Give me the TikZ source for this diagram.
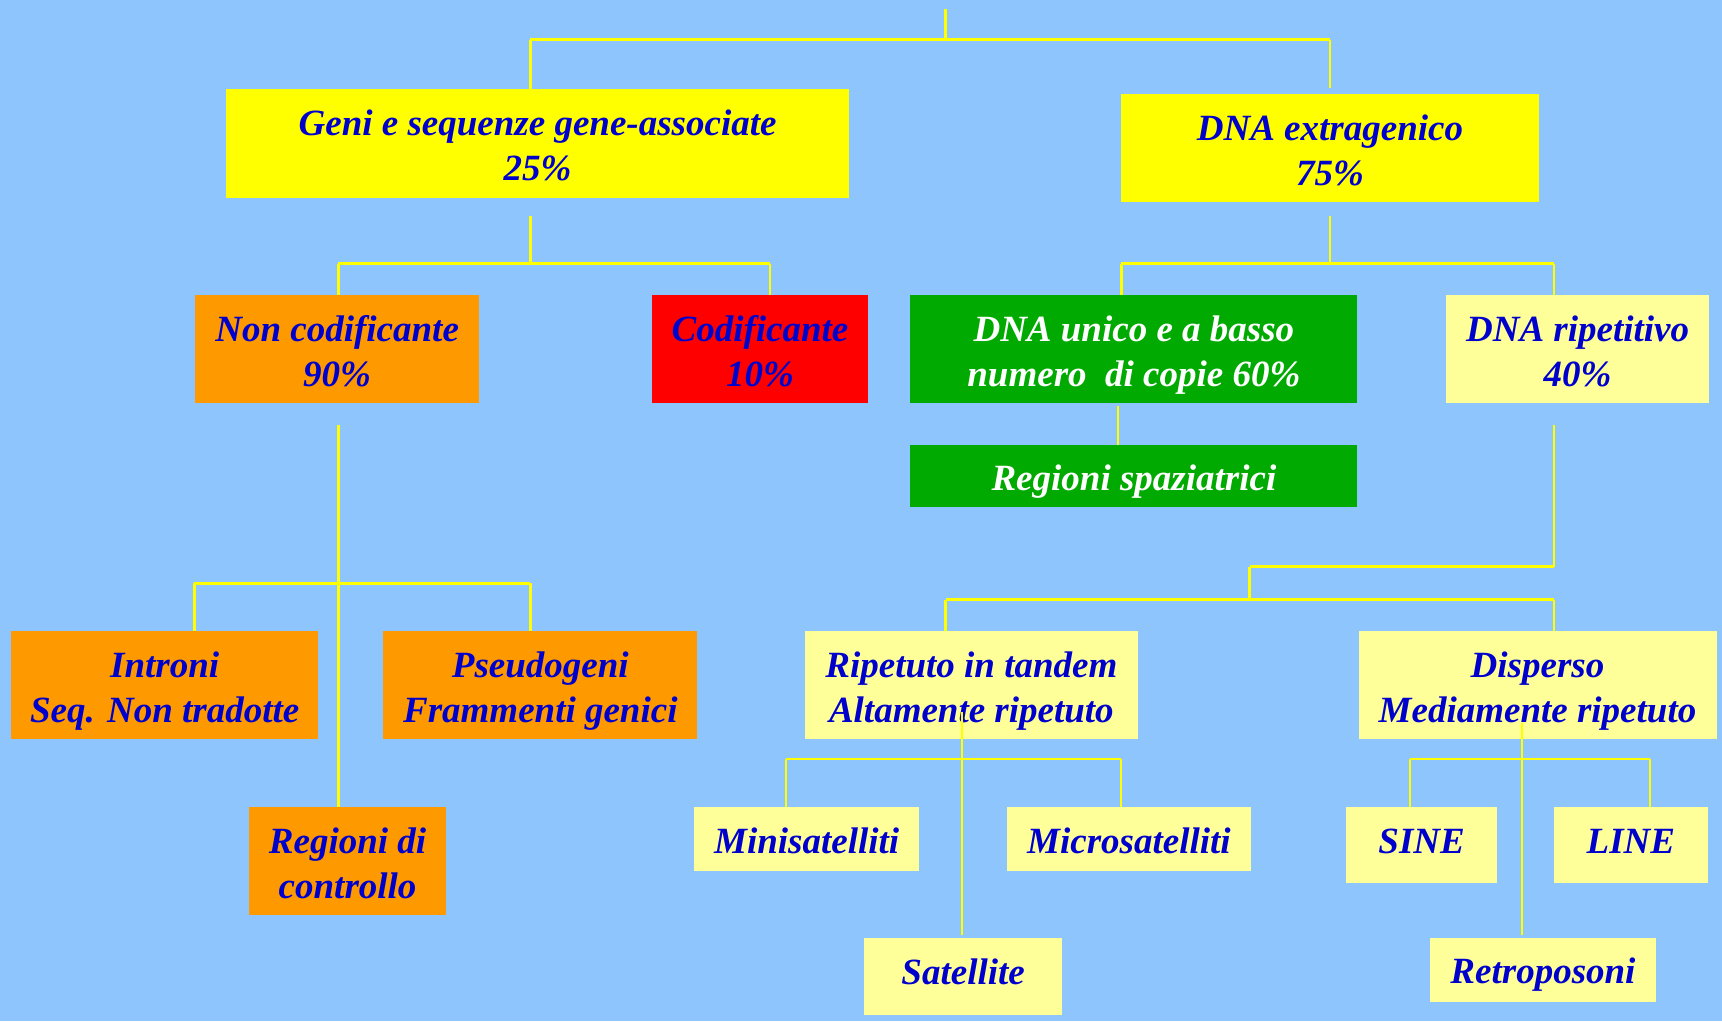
\documentclass[tikz,border=0pt]{standalone}
\usepackage{fontspec}
\setmainfont{Liberation Serif}
\definecolor{skyback}{RGB}{142,197,252}
\definecolor{linkyellow}{RGB}{255,255,0}
\definecolor{boxyellow}{RGB}{255,255,0}
\definecolor{boxpale}{RGB}{255,255,153}
\definecolor{boxorange}{RGB}{255,153,0}
\definecolor{boxred}{RGB}{255,0,0}
\definecolor{boxgreen}{RGB}{0,170,0}
\definecolor{inkblue}{RGB}{0,0,204}

% box given by its corners (x1,y1) and (x2,y2)
\newcommand\gbox[7]{%
  \node[#6, minimum width={(#4-#2)*1.0982pt}, minimum height={(#5-#3)*1.0982pt}]
    (#1) at ({(#2+#4)/2},{(#3+#5)/2}) {#7};}

\tikzset{
  cell/.style={inner sep=0pt, outer sep=0pt, align=center, text=inkblue,
    font=\fontsize{37pt}{45pt}\selectfont\bfseries\itshape},
  one/.style={text height=37pt, text depth=9pt},
  onehigh/.style={text height=25pt, text depth=9pt},
  two/.style={text height=84pt, text depth=9pt},
  yel/.style={cell, fill=boxyellow},
  pale/.style={cell, fill=boxpale},
  ora/.style={cell, fill=boxorange},
  redbox/.style={cell, fill=boxred},
  grn/.style={cell, fill=boxgreen, text=white},
  vl/.style={draw=linkyellow, line width=2.6pt},
  bar/.style={draw=linkyellow, line width=3pt},
  thin/.style={draw=linkyellow, line width=2pt},
}

\begin{document}
\begin{tikzpicture}[x=1.0982pt, y=-1.0982pt]
\fill[skyback] (0,0) rectangle (1568,930);
\useasboundingbox (0,0) rectangle (1568,930);

% boxes
\gbox{geni}{206}{81}{773}{180}{yel,two}{Geni e sequenze gene-associate\\25\%}
\gbox{extra}{1021}{86}{1401}{184}{yel,two}{DNA extragenico\\75\%}
\gbox{noncod}{178}{269}{436}{367}{ora,two}{Non codificante\\90\%}
\gbox{cod}{594}{269}{790}{367}{redbox,two}{Codificante\\10\%}
\gbox{unico}{829}{269}{1236}{367}{grn,two}{DNA unico e a basso\\numero~ di copie 60\%}
\gbox{ripet}{1317}{269}{1556}{367}{pale,two}{DNA ripetitivo\\40\%}
\gbox{spaz}{829}{405}{1236}{462}{grn,one}{Regioni spaziatrici}
\gbox{introni}{10}{575}{290}{673}{ora,two}{Introni\\Seq. Non tradotte}
\gbox{pseudo}{349}{575}{635}{673}{ora,two}{Pseudogeni\\Frammenti genici}
\gbox{contr}{227}{735}{406}{833}{ora,two}{Regioni di\\controllo}
\gbox{tandem}{733}{575}{1036}{673}{pale,two}{Ripetuto in tandem\\Altamente ripetuto}
\gbox{disp}{1237}{575}{1563}{673}{pale,two}{Disperso\\Mediamente ripetuto}
\gbox{mini}{632}{735}{837}{793}{pale,one}{Minisatelliti}
\gbox{micro}{917}{735}{1139}{793}{pale,one}{Microsatelliti}
\gbox{sat}{787}{854}{967}{924}{pale,onehigh}{Satellite}
\gbox{sine}{1226}{735}{1363}{804}{pale,onehigh}{SINE}
\gbox{linebox}{1415}{735}{1555}{804}{pale,onehigh}{LINE}
\gbox{retro}{1302}{854}{1508}{912}{pale,one}{Retroposoni}

% junction points
\coordinate (root) at (861,8);
\coordinate (r0) at (861,36);
\coordinate (rl) at (483,36);
\coordinate (rr) at (1211,36);
\coordinate (g0) at (483,197);
\coordinate (g1) at (483,240);
\coordinate (gl) at (308,240);
\coordinate (gr) at (701,240);
\coordinate (e0) at (1211,197);
\coordinate (e1) at (1211,240);
\coordinate (el) at (1021,240);
\coordinate (er) at (1415,240);
\coordinate (u0) at (1018,370);
\coordinate (n0) at (308,387);
\coordinate (nl) at (177,531);
\coordinate (nr) at (483,531);
\coordinate (p0) at (1415,387);
\coordinate (p1) at (1415,516);
\coordinate (p2) at (1138,516);
\coordinate (p3) at (1138,546);
\coordinate (pl) at (861,546);
\coordinate (pr) at (1415,546);
\coordinate (t0) at (876,648);
\coordinate (t1) at (876,851);
\coordinate (tl) at (716,691);
\coordinate (tr) at (1021,691);
\coordinate (d0) at (1386,658);
\coordinate (d1) at (1386,851);
\coordinate (dl) at (1284,691);
\coordinate (dr) at (1502,691);

% top level
\draw[vl] (root) -- (r0);
\draw[bar] (rl) -- (rr);
\draw[vl] (rl) -- (rl |- geni.north);
\draw[vl] (rr) -- (1211,80);

% genes branch
\draw[vl] (g0) -- (g1);
\draw[bar] (gl) -- (gr);
\draw[vl] (gl) -- (gl |- noncod.north);
\draw[vl] (gr) -- (gr |- cod.north);

% extragenic branch
\draw[vl] (e0) -- (e1);
\draw[bar] (el) -- (er);
\draw[vl] (el) -- (el |- unico.north);
\draw[vl] (er) -- (er |- ripet.north);
\draw[vl] (u0) -- (u0 |- spaz.north);

% non coding
\draw[vl] (n0) -- (n0 |- contr.north);
\draw[bar] (nl) -- (nr);
\draw[vl] (nl) -- (nl |- introni.north);
\draw[vl] (nr) -- (nr |- pseudo.north);

% repetitive DNA
\draw[vl] (p0) -- (p1);
\draw[bar] (p2) -- (p1);
\draw[vl] (p2) -- (p3);
\draw[bar] (pl) -- (pr);
\draw[vl] (pl) -- (pl |- tandem.north);
\draw[vl] (pr) -- (pr |- disp.north);

% tandem repeats
\draw[thin] (t0) -- (t1);
\draw[thin] (tl) -- (tr);
\draw[thin] (tl) -- (tl |- mini.north);
\draw[thin] (tr) -- (tr |- micro.north);

% interspersed repeats
\draw[thin] (d0) -- (d1);
\draw[thin] (dl) -- (dr);
\draw[thin] (dl) -- (dl |- sine.north);
\draw[thin] (dr) -- (dr |- linebox.north);
\end{tikzpicture}
\end{document}
